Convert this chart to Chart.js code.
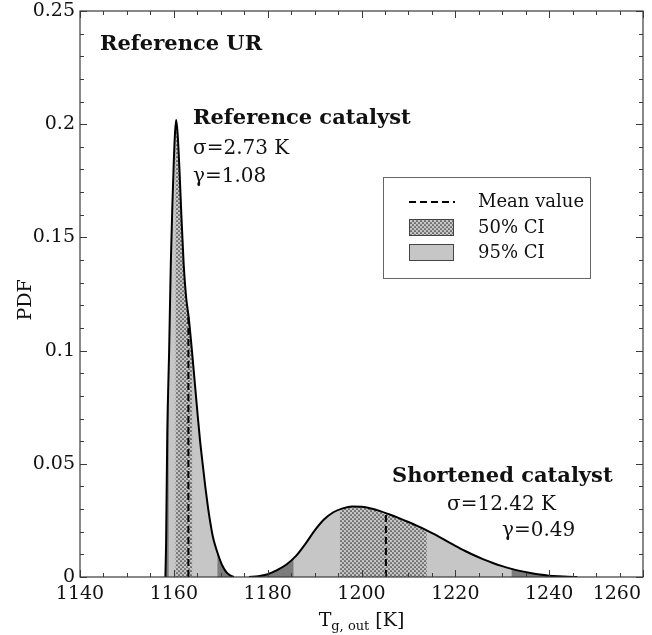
<!DOCTYPE html>
<html>
<head>
<meta charset="utf-8">
<script src="https://cdn.jsdelivr.net/npm/chart.js@4/dist/chart.umd.min.js"></script>
<style>
  html, body { margin: 0; padding: 0; background: #fff; }
  canvas { display: block; }
</style>
</head>
<body>
<canvas id="pdf" width="652" height="635"></canvas>
<script>
// Reference catalyst: outlet gas temperature PDF
const refT   = [1158.2, 1158.35, 1158.6, 1159.0, 1159.35, 1159.7, 1160.0, 1160.25, 1160.5, 1160.8, 1161.2, 1161.6, 1162.1, 1162.6, 1163.2, 1163.9, 1164.5, 1165.1, 1165.6, 1166.2, 1166.7, 1167.2, 1167.7, 1168.3, 1168.8, 1169.5, 1170.3, 1171.1, 1172.0, 1172.8];
const refPdf = [0, 0.015, 0.063, 0.100, 0.138, 0.165, 0.184, 0.196, 0.202, 0.196, 0.180, 0.160, 0.138, 0.124, 0.114, 0.099, 0.085, 0.071, 0.060, 0.049, 0.040, 0.032, 0.025, 0.018, 0.0140, 0.0095, 0.0052, 0.0024, 0.0007, 0];
const refMean = 1163.1;
const refMeanPdf = 0.115;
const refCI50 = [1160.4, 1163.9];
const refCI95 = [1158.9, 1169.3];

// Shortened catalyst
const shortT   = [1176, 1178, 1180, 1182, 1184, 1186, 1188, 1190, 1192, 1194, 1196, 1198, 1200, 1202, 1204, 1206, 1208, 1210, 1212, 1214, 1216, 1218, 1220, 1222, 1224, 1226, 1228, 1230, 1232, 1234, 1236, 1238, 1240, 1242, 1244, 1246];
const shortPdf = [0, 0.0003, 0.0012, 0.0030, 0.0055, 0.0092, 0.0145, 0.0205, 0.0254, 0.0286, 0.0303, 0.0311, 0.0310, 0.0303, 0.0291, 0.0276, 0.0260, 0.0243, 0.0225, 0.0205, 0.0184, 0.0161, 0.0138, 0.0116, 0.0096, 0.0078, 0.0062, 0.0048, 0.0036, 0.0026, 0.0018, 0.0011, 0.0006, 0.0003, 0.0001, 0];
const shortMean = 1205.2;
const shortMeanPdf = 0.0280;
const shortCI50 = [1195.4, 1213.9];
const shortCI95 = [1185.5, 1232.0];

const xTicks = [1140, 1160, 1180, 1200, 1220, 1240, 1260];
const yTicks = [0, 0.05, 0.1, 0.15, 0.2, 0.25];
const yTickLabels = ['0', '0.05', '0.1', '0.15', '0.2', '0.25'];

const LIGHT = '#c6c6c6';
const DARK = '#7c7c7c';
const SERIF = '"DejaVu Serif", serif';

// stipple used for the 50% interval
function makeDots(ctx) {
  const c = document.createElement('canvas');
  c.width = 4; c.height = 4;
  const g = c.getContext('2d');
  g.fillStyle = LIGHT;
  g.fillRect(0, 0, 4, 4);
  g.fillStyle = '#2e2e2e';
  g.beginPath(); g.arc(1, 1, 0.85, 0, Math.PI * 2); g.fill();
  g.beginPath(); g.arc(3, 3, 0.85, 0, Math.PI * 2); g.fill();
  return ctx.createPattern(c, 'repeat');
}

const canvas = document.getElementById('pdf');
const dots = makeDots(canvas.getContext('2d'));

const pts = (xs, ys) => xs.map((x, i) => ({x: x, y: ys[i]}));

// fill under a curve between lo and hi, using the line element's own path
function areaUnder(chart, meta, lo, hi, style) {
  const ctx = chart.ctx, a = chart.chartArea;
  const xs = chart.scales.x, ys = chart.scales.y;
  const line = meta.dataset, p = meta.data;
  line.updateControlPoints(a, 'x');
  const x0 = lo == null ? a.left : xs.getPixelForValue(lo);
  const x1 = hi == null ? a.right : xs.getPixelForValue(hi);
  const base = ys.getPixelForValue(0);
  ctx.save();
  ctx.beginPath();
  ctx.rect(x0, a.top, x1 - x0, a.bottom - a.top);
  ctx.clip();
  ctx.beginPath();
  line.path(ctx);
  ctx.lineTo(p[p.length - 1].x, base);
  ctx.lineTo(p[0].x, base);
  ctx.closePath();
  ctx.fillStyle = style;
  ctx.fill();
  ctx.restore();
}

const bands = {
  id: 'bands',
  beforeDatasetsDraw(chart) {
    chart.data.datasets.forEach((ds, i) => {
      if (!ds.ci95) return;
      const meta = chart.getDatasetMeta(i);
      areaUnder(chart, meta, null, null, DARK);
      areaUnder(chart, meta, ds.ci95[0], ds.ci95[1], LIGHT);
      areaUnder(chart, meta, ds.ci50[0], ds.ci50[1], dots);
    });
  }
};

// frame, inward ticks, labels, legend and notes
const decor = {
  id: 'decor',
  afterDraw(chart) {
    const ctx = chart.ctx, a = chart.chartArea;
    const xs = chart.scales.x, ys = chart.scales.y;
    ctx.save();
    ctx.strokeStyle = '#3a3a3a';
    ctx.lineWidth = 1.2;
    ctx.strokeRect(a.left, a.top, a.right - a.left, a.bottom - a.top);

    ctx.lineWidth = 1;
    ctx.beginPath();
    for (let v = 1140; v <= 1260; v += 5) {
      const x = Math.round(xs.getPixelForValue(v)) + 0.5;
      const len = v % 20 === 0 ? 7 : 4;
      ctx.moveTo(x, a.bottom); ctx.lineTo(x, a.bottom - len);
      ctx.moveTo(x, a.top); ctx.lineTo(x, a.top + len);
    }
    for (let k = 0; k <= 25; k++) {
      const y = Math.round(ys.getPixelForValue(k / 100)) + 0.5;
      const len = k % 5 === 0 ? 7 : 4;
      ctx.moveTo(a.left, y); ctx.lineTo(a.left + len, y);
      ctx.moveTo(a.right, y); ctx.lineTo(a.right - len, y);
    }
    ctx.stroke();

    ctx.fillStyle = '#111';
    ctx.font = '19px ' + SERIF;
    ctx.textBaseline = 'middle';
    ctx.textAlign = 'right';
    yTicks.forEach((v, i) => ctx.fillText(yTickLabels[i], a.left - 5, ys.getPixelForValue(v)));
    ctx.textAlign = 'center';
    xTicks.forEach(v => {
      const s = String(v);
      const w = ctx.measureText(s).width;
      const x = Math.min(xs.getPixelForValue(v), chart.width - 11 - w / 2);
      ctx.fillText(s, x, a.bottom + 17);
    });

    // axis titles
    ctx.save();
    ctx.translate(26, 300);
    ctx.rotate(-Math.PI / 2);
    ctx.fillText('PDF', 0, 0);
    ctx.restore();

    const cx = (a.left + a.right) / 2, by = 626;
    ctx.textBaseline = 'alphabetic';
    ctx.textAlign = 'left';
    ctx.font = '19px ' + SERIF;
    const wT = ctx.measureText('T').width, wK = ctx.measureText(' [K]').width;
    ctx.font = '13px ' + SERIF;
    const wSub = ctx.measureText('g, out').width;
    let x = cx - (wT + wSub + wK) / 2;
    ctx.font = '19px ' + SERIF;
    ctx.fillText('T', x, by);
    ctx.font = '13px ' + SERIF;
    ctx.fillText('g, out', x + wT, by + 4);
    ctx.font = '19px ' + SERIF;
    ctx.fillText(' [K]', x + wT + wSub, by);

    // notes
    ctx.font = 'bold 21px ' + SERIF;
    ctx.fillText('Reference UR', 100, 50);
    ctx.fillText('Reference catalyst', 193, 124);
    ctx.fillText('Shortened catalyst', 392, 482);
    ctx.font = '20px ' + SERIF;
    ctx.fillText('\u03c3=2.73 K', 193, 154);
    ctx.fillText('\u03b3=1.08', 193, 182);
    ctx.fillText('\u03c3=12.42 K', 447, 510);
    ctx.fillText('\u03b3=0.49', 502, 536);

    // legend
    const lx = 383, ly = 177, lw = 207, lh = 101;
    ctx.fillStyle = '#fff';
    ctx.fillRect(lx, ly, lw, lh);
    ctx.strokeStyle = '#666';
    ctx.lineWidth = 1;
    ctx.strokeRect(lx + 0.5, ly + 0.5, lw, lh);
    ctx.strokeStyle = '#000';
    ctx.lineWidth = 2;
    ctx.setLineDash([7, 4]);
    ctx.beginPath(); ctx.moveTo(lx + 26, 202); ctx.lineTo(lx + 72, 202); ctx.stroke();
    ctx.setLineDash([]);
    ctx.lineWidth = 1;
    ctx.strokeStyle = '#444';
    ctx.fillStyle = dots;
    ctx.fillRect(lx + 26, 219, 44, 16);
    ctx.strokeRect(lx + 26.5, 219.5, 44, 16);
    ctx.fillStyle = LIGHT;
    ctx.fillRect(lx + 26, 244, 44, 16);
    ctx.strokeRect(lx + 26.5, 244.5, 44, 16);
    ctx.fillStyle = '#111';
    ctx.font = '18px ' + SERIF;
    ctx.textBaseline = 'middle';
    ctx.fillText('Mean value', lx + 95, 202);
    ctx.fillText('50% CI', lx + 95, 228);
    ctx.fillText('95% CI', lx + 95, 253);
    ctx.restore();
  }
};

const curve = (t, p, ci50, ci95) => ({
  data: pts(t, p),
  ci50: ci50,
  ci95: ci95,
  borderColor: '#000',
  borderWidth: 2,
  fill: false,
  pointRadius: 0,
  cubicInterpolationMode: 'monotone',
  order: 2
});

const meanLine = (m, h) => ({
  data: [{x: m, y: 0}, {x: m, y: h}],
  borderColor: '#000',
  borderWidth: 2,
  borderDash: [7, 4],
  fill: false,
  pointRadius: 0,
  order: 1
});

new Chart(canvas, {
  type: 'line',
  data: {
    datasets: [
      meanLine(refMean, refMeanPdf),
      meanLine(shortMean, shortMeanPdf),
      curve(refT, refPdf, refCI50, refCI95),
      curve(shortT, shortPdf, shortCI50, shortCI95)
    ]
  },
  options: {
    responsive: false,
    devicePixelRatio: 1,
    animation: false,
    layout: { padding: { left: 80, right: 9, top: 11, bottom: 58 } },
    scales: {
      x: { type: 'linear', min: 1140, max: 1260, display: false },
      y: { type: 'linear', min: 0, max: 0.25, display: false }
    },
    plugins: {
      legend: { display: false },
      tooltip: { enabled: false }
    }
  },
  plugins: [bands, decor]
});
</script>
</body>
</html>
